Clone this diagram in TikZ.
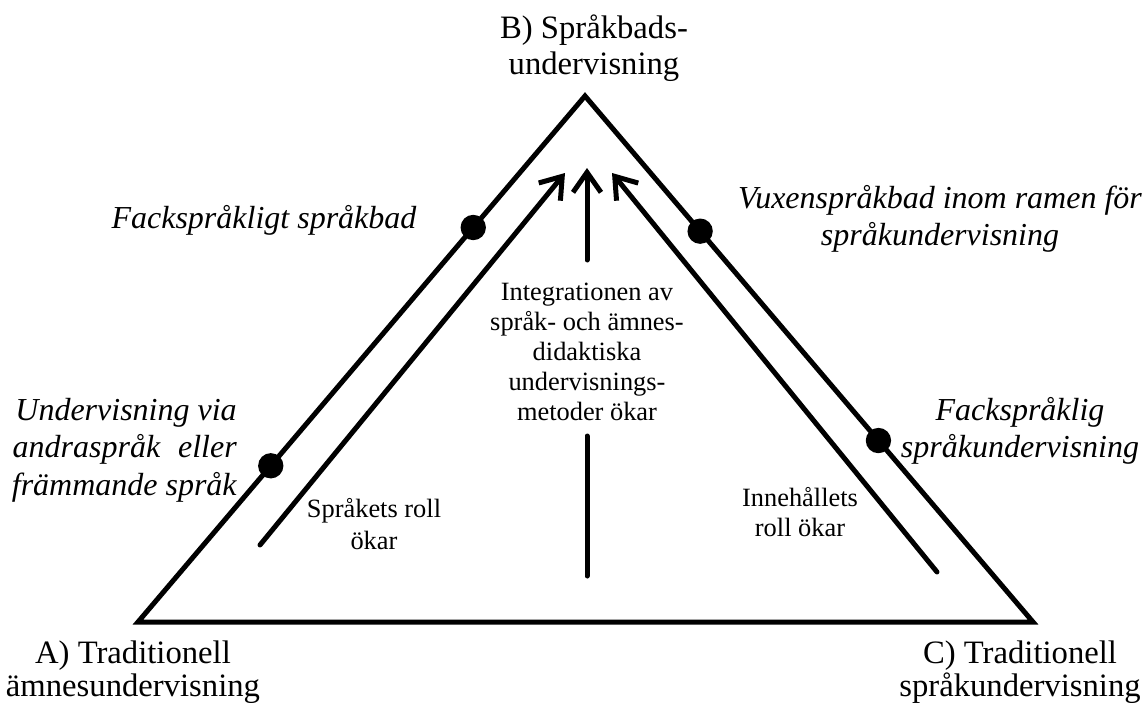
\documentclass[tikz,border=0pt]{standalone}
\usepackage{fontspec}
\setmainfont{Liberation Serif}
\usetikzlibrary{arrows.meta,calc}
\begin{document}
\begin{tikzpicture}[x=0.75pt,y=-0.75pt,
  edge/.style={line width=3.75pt, line join=miter},
  arr/.style={line width=3.75pt, line cap=round,
    -{Straight Barb[length=15pt,width=21pt]}},
  seg/.style={line width=3.75pt, line cap=round},
  dot/.style={circle, fill=black, inner sep=0pt, minimum size=19pt},
  big/.style={font=\fontsize{24.5}{25}\selectfont, inner sep=0pt, align=center},
  bigit/.style={font=\fontsize{24}{28}\selectfont\itshape, inner sep=0pt},
  small/.style={font=\fontsize{19.8}{22.5}\selectfont, inner sep=0pt, align=center}]
\useasboundingbox (0,0) rectangle (1147,703);

% corners of the triangle
\coordinate (A) at (138,622);
\coordinate (B) at (585,96);
\coordinate (C) at (1033,622);
\draw[edge] (A) -- (B) -- (C) -- cycle;

% markers on the two slanted sides
\node[dot] (d1) at ($(A)!0.297!(B)$) {};
\node[dot] (d2) at ($(A)!0.75!(B)$) {};
\node[dot] (d3) at ($(B)!0.257!(C)$) {};
\node[dot] (d4) at ($(B)!0.655!(C)$) {};

% corner labels
\node[big] (la) at (133,672) {A) Traditionell\\ämnesundervisning};
\node[big, font=\fontsize{24.5}{27}\selectfont] (lb) at (594,48) {B) Språkbads-\\undervisning};
\node[big] (lc) at (1020,672) {C) Traditionell\\språkundervisning};

% side labels
\node[bigit] (fs) at (264,220) {Fackspråkligt språkbad};
\node[bigit, align=right, anchor=east] (uv) at (237,450)
  {Undervisning via\\\makebox[168pt][s]{andraspråk eller}\\främmande språk};
\node[bigit, align=center] (vx) at (940,219) {Vuxenspråkbad inom ramen för\\språkundervisning};
\node[bigit, align=center] (fk) at (1020,431) {Fackspråklig\\språkundervisning};

% inner labels
\node[small] (mid) at (587,352) {Integrationen av\\språk- och ämnes-\\didaktiska\\undervisnings-\\metoder ökar};
\node[small, font=\fontsize{19.8}{24}\selectfont] (sr) at (374,524) {Språkets roll\\ökar};
\node[small] (ir) at (800,512) {Innehållets\\roll ökar};

% arrows towards the apex
\coordinate (l0) at (260,545);
\coordinate (l1) at (565,173);
\draw[arr] (l0) -- (l1);

\coordinate (r0) at (937,572);
\coordinate (r1) at (612,173);
\draw[arr] (r0) -- (r1);

\coordinate (m0) at (587,576);
\coordinate (m1) at (587,436);
\coordinate (m2) at (587,260);
\coordinate (m3) at (587,168);
\draw[seg] (m0) -- (m1);
\draw[arr] (m2) -- (m3);
\end{tikzpicture}
\end{document}
